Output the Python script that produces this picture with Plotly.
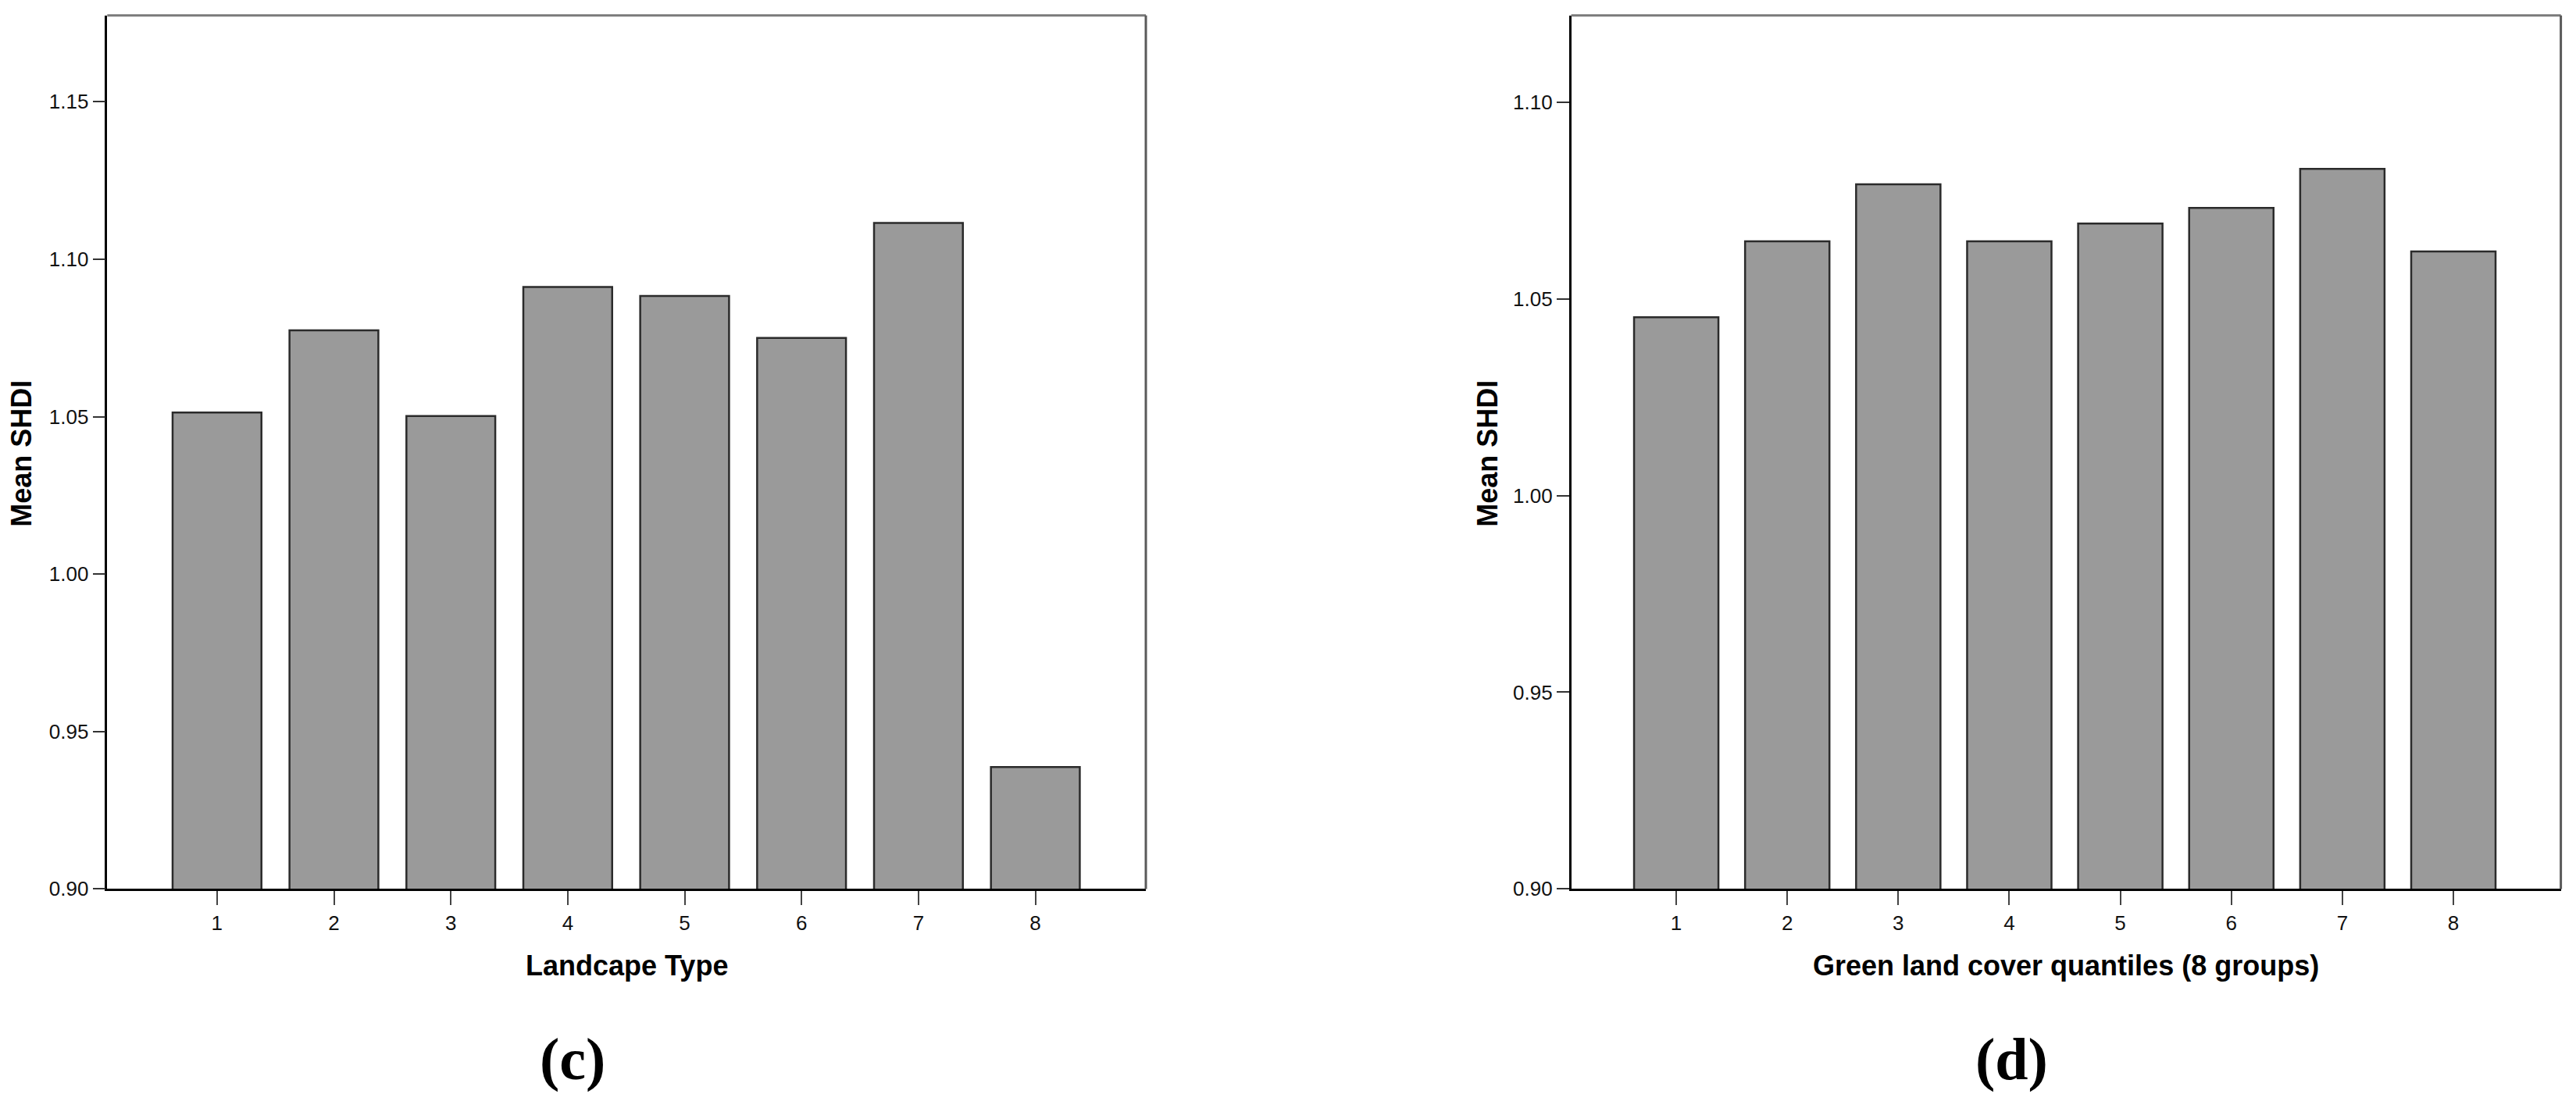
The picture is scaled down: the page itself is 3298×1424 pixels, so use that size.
import plotly.graph_objects as go

# ---- data ----
categories = [1, 2, 3, 4, 5, 6, 7, 8]
landscape_shdi = [1.0513, 1.0774, 1.0502, 1.0912, 1.0883, 1.0750, 1.1115, 0.9387]
green_shdi = [1.0453, 1.0646, 1.0791, 1.0646, 1.0691, 1.0731, 1.0830, 1.0620]
left_yticks = [0.90, 0.95, 1.00, 1.05, 1.10, 1.15]
right_yticks = [0.90, 0.95, 1.00, 1.05, 1.10]
left_xtitle = "Landcape Type"
right_xtitle = "Green land cover quantiles (8 groups)"
ytitle = "Mean SHDI"
panel_labels = ["(c)", "(d)"]

W, H = 3298, 1424
BAR_FILL = "#9a9a9a"
BAR_LINE = "#2b2b2b"

fig = go.Figure()
fig.add_trace(go.Bar(x=categories, y=landscape_shdi, xaxis="x", yaxis="y",
                     marker=dict(color=BAR_FILL, line=dict(color=BAR_LINE, width=2.5)),
                     width=0.76, showlegend=False))
fig.add_trace(go.Bar(x=categories, y=green_shdi, xaxis="x2", yaxis="y2",
                     marker=dict(color=BAR_FILL, line=dict(color=BAR_LINE, width=2.5)),
                     width=0.76, showlegend=False))

def px_x(v):
    return v / W

def px_y(v):
    return 1 - v / H

ydom = [px_y(1150.5), px_y(20)]
tickfont = dict(family="Liberation Sans, Arial, sans-serif", size=26, color="#111111")

common_x = dict(tickmode="array", tickvals=categories, ticktext=[str(c) for c in categories],
                ticks="outside", ticklen=18, tickwidth=2, tickcolor="#444444",
                showline=True, linecolor="#000000", linewidth=3, showgrid=False,
                zeroline=False, tickfont=tickfont, fixedrange=True)
common_y = dict(tickmode="array", ticks="outside", ticklen=16, tickwidth=2,
                tickcolor="#333333", showline=True, linecolor="#000000", linewidth=2.5,
                showgrid=False, zeroline=False, tickfont=tickfont, fixedrange=True)

fig.update_layout(
    width=W, height=H,
    margin=dict(l=0, r=0, t=0, b=0),
    paper_bgcolor="white", plot_bgcolor="white",
    xaxis=dict(domain=[px_x(137.3), px_x(1467)], range=[0.061, 8.945], anchor="y", **common_x),
    yaxis=dict(domain=ydom, range=[0.90, 1.1774], anchor="x",
               tickvals=left_yticks, ticktext=[f"{v:.2f}" for v in left_yticks], **common_y),
    xaxis2=dict(domain=[px_x(2011.6), px_x(3278.6)], range=[0.054, 8.968], anchor="y2", **common_x),
    yaxis2=dict(domain=ydom, range=[0.90, 1.122], anchor="x2",
                tickvals=right_yticks, ticktext=[f"{v:.2f}" for v in right_yticks], **common_y),
    bargap=0.24,
)

# frame top / right lines
for xr, yr in (("x domain", "y domain"), ("x2 domain", "y2 domain")):
    fig.add_shape(type="line", xref=xr, yref=yr, x0=0, x1=1, y0=1, y1=1,
                  line=dict(color="#7a7a7a", width=3))
    fig.add_shape(type="line", xref=xr, yref=yr, x0=1, x1=1, y0=0, y1=1,
                  line=dict(color="#5a5a5a", width=3))

title_font = dict(family="Liberation Sans, Arial, sans-serif", size=36, color="#000000")
label_font = dict(family="Liberation Serif, Times New Roman, serif", size=76, color="#000000")

annotations = [
    dict(text=f"<b>{ytitle}</b>", x=px_x(28), y=px_y(587), textangle=-90, font=title_font),
    dict(text=f"<b>{ytitle}</b>", x=px_x(1905), y=px_y(587), textangle=-90, font=title_font),
    dict(text=f"<b>{left_xtitle}</b>", x=px_x(802), y=px_y(1250), font=title_font),
    dict(text=f"<b>{right_xtitle}</b>", x=px_x(2645), y=px_y(1250), font=title_font),
    dict(text=f"<b>{panel_labels[0]}</b>", x=px_x(733), y=px_y(1371), font=label_font),
    dict(text=f"<b>{panel_labels[1]}</b>", x=px_x(2575), y=px_y(1371), font=label_font),
]
for a in annotations:
    fig.add_annotation(xref="paper", yref="paper", showarrow=False,
                       xanchor="center", yanchor="middle", **a)

fig.write_html(
    "out.html",
    config={"displayModeBar": False},
    post_script=(
        "document.body.style.margin='0';"
        "document.body.style.overflow='hidden';"
        "document.documentElement.style.overflow='hidden';"
    ),
)
